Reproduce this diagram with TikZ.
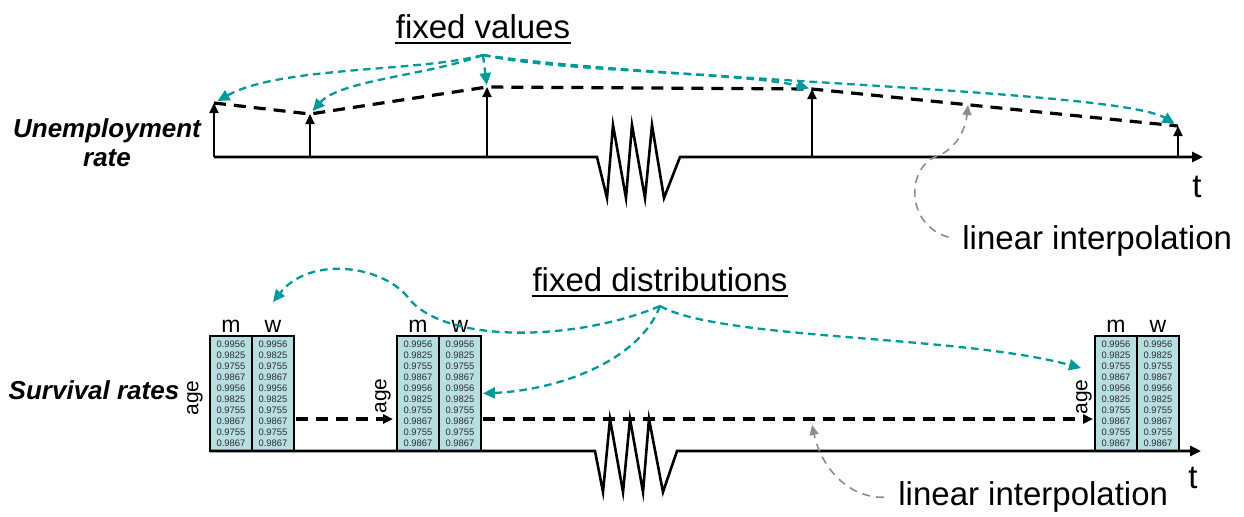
\documentclass[tikz,border=0pt]{standalone}
\usepackage{fontspec}
\setmainfont{Liberation Sans}
\usetikzlibrary{arrows.meta}
\definecolor{tealc}{RGB}{0,153,153}
\definecolor{cellfill}{RGB}{183,222,224}
\definecolor{numgray}{RGB}{45,45,45}
\definecolor{interpgray}{RGB}{140,140,140}
\newcommand{\colvals}{0.9956\\0.9825\\0.9755\\0.9867\\0.9956\\0.9825\\0.9755\\0.9867\\0.9755\\0.9867}
\begin{document}
\begin{tikzpicture}[x=0.5pt,y=-0.5pt,
  axisline/.style={line width=1.3pt, line join=miter, -{Triangle[length=5.5pt,width=5pt]}},
  vertarrow/.style={line width=1pt, -{Triangle[length=5pt,width=4.5pt]}},
  interp/.style={line width=1.6pt, dash pattern=on 6pt off 4pt},
  interparrow/.style={interp, -{Triangle[length=5pt,width=4.5pt]}},
  tealarrow/.style={tealc, line width=1.15pt, dash pattern=on 3.8pt off 2.5pt, -{Triangle[length=6pt,width=5.5pt]}},
  grayarrow/.style={interpgray, line width=0.8pt, dash pattern=on 4pt off 3pt, -{Triangle[length=5pt,width=4.5pt]}},
  bigtext/.style={font=\fontsize{16.5pt}{19pt}\selectfont, inner sep=0},
  ttext/.style={font=\fontsize{16.5pt}{19pt}\selectfont, inner sep=0},
  rowlabel/.style={font=\fontsize{13pt}{14.5pt}\selectfont\bfseries\itshape, align=center, inner sep=0},
  colhead/.style={font=\fontsize{11.5pt}{13pt}\selectfont, inner sep=0},
  agelabel/.style={font=\fontsize{10.5pt}{12pt}\selectfont, rotate=90, inner sep=0},
  datacol/.style={draw=black, line width=0.9pt, fill=cellfill, minimum width=21pt, minimum height=57.5pt, inner sep=0, outer sep=0, align=center, text=numgray, font=\fontsize{4.7pt}{5.5pt}\selectfont, anchor=north west},
  uline/.style={line width=1.2pt},
]
\useasboundingbox (0,0) rectangle (1244,516);

% ---------------- top: unemployment rate ----------------
\node[bigtext, anchor=base] (fv) at (483,38) {fixed values};
\draw[uline] ([yshift=-2.5pt]fv.base west) -- ([yshift=-2.5pt]fv.base east);
\coordinate (fvsrc) at (483,55);

\node[rowlabel, anchor=north] (ur) at (107,118) {Unemployment\\rate};

\draw[axisline] (214,157) -- (597,157) -- (607,198) -- (613,125) -- (626,198) -- (632,125) -- (645,198) -- (652,125) -- (664,198) -- (680,157) -- (1203,157);
\node[ttext] (t1) at (1197,187) {t};

\coordinate (b1) at (214,157); \coordinate (u1) at (214,103);
\coordinate (b2) at (310,157); \coordinate (u2) at (310,114);
\coordinate (b3) at (487,157); \coordinate (u3) at (487,87);
\coordinate (b4) at (812,157); \coordinate (u4) at (812,89);
\coordinate (b5) at (1178,157); \coordinate (u5) at (1178,126);

\foreach \i in {1,...,5} { \draw[vertarrow] (b\i) -- (u\i); }
\draw[interp] (u1) -- (u2) -- (u3) -- (u4) -- (u5);

\draw[tealarrow, shorten >=2pt] (fvsrc) .. controls (420,72) and (280,66) .. (u1);
\draw[tealarrow, shorten >=2pt] (fvsrc) .. controls (430,75) and (340,80) .. (u2);
\draw[tealarrow, shorten >=1pt] (fvsrc) -- (u3);
\draw[tealarrow, shorten >=1.5pt] (fvsrc) .. controls (560,72) and (740,72) .. (u4);
\draw[tealarrow, shorten >=2pt] (fvsrc) .. controls (650,80) and (1120,90) .. (u5);

\node[bigtext, anchor=west] (li1) at (962,241) {linear interpolation};
\coordinate (li1tip) at (968,105);
\draw[grayarrow, shorten <=7pt] (li1.west) .. controls (905,225) and (905,165) .. (940,155) .. controls (960,145) and (966,125) .. (li1tip);

% ---------------- bottom: survival rates ----------------
\node[bigtext, anchor=base] (fd) at (660,291) {fixed distributions};
\draw[uline] ([yshift=-2.5pt]fd.base west) -- ([yshift=-2.5pt]fd.base east);
\coordinate (fdsrc) at (660,306);

\node[rowlabel] (sr) at (94,390) {Survival rates};

\node[datacol] (t1m) at (210,336) {\colvals};
\node[datacol] (t1w) at (t1m.north east) {\colvals};
\node[datacol] (t2m) at (397,336) {\colvals};
\node[datacol] (t2w) at (t2m.north east) {\colvals};
\node[datacol] (t3m) at (1095,336) {\colvals};
\node[datacol] (t3w) at (t3m.north east) {\colvals};

\foreach \t in {1,2,3} {
  \node[colhead, anchor=base] (h\t m) at ([yshift=2pt]t\t m.north) {m};
  \node[colhead, anchor=base] (h\t w) at ([yshift=2pt]t\t w.north) {w};
}

\node[agelabel] (a1) at (195,398) {age};
\node[agelabel] (a2) at (383,396) {age};
\node[agelabel] (a3) at (1084,397) {age};

\draw[axisline] (210,451) -- (595,451) -- (603,492) -- (610,419) -- (623,492) -- (630,419) -- (643,492) -- (649,419) -- (663,492) -- (677,451) -- (1201,451);
\node[ttext] (t2) at (1193,478) {t};

\draw[interparrow, shorten <=1pt, shorten >=2pt] ([yshift=-12.75pt]t1w.east) -- ([yshift=-12.75pt]t2m.west);
\draw[interparrow, shorten <=1pt, shorten >=1pt] ([yshift=-12.75pt]t2w.east) -- ([yshift=-12.75pt]t3m.west);

\coordinate (loopmid) at (410,300);
\coordinate (looptip) at (273,302);
\coordinate (t3tip) at (1081,368);
\draw[tealarrow] (fdsrc) .. controls (580,340) and (450,345) .. (loopmid) .. controls (385,265) and (310,255) .. (looptip);
\draw[tealarrow, shorten >=1pt] (fdsrc) .. controls (640,360) and (560,390) .. (t2w.east);
\draw[tealarrow] (fdsrc) .. controls (720,340) and (960,335) .. (t3tip);

\node[bigtext, anchor=west] (li2) at (898,497) {linear interpolation};
\coordinate (li2tip) at (812,425);
\draw[grayarrow, shorten <=7pt] (li2.west) .. controls (850,498) and (822,470) .. (li2tip);
\end{tikzpicture}
\end{document}
